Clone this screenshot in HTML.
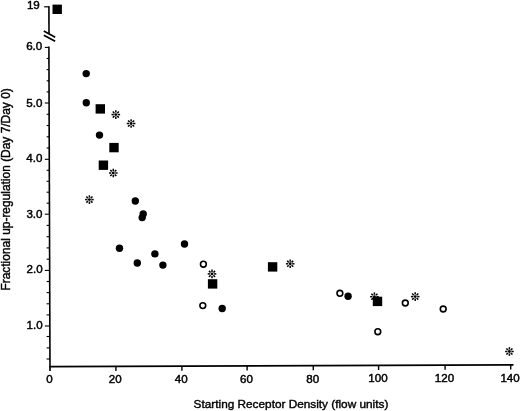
<!DOCTYPE html>
<html><head><meta charset="utf-8"><style>
html,body{margin:0;padding:0;background:#fff;width:520px;height:411px;overflow:hidden}
svg{display:block;filter:grayscale(1)}
.t{font-family:"Liberation Sans",sans-serif;font-size:11.6px;fill:#000;stroke:#000;stroke-width:0.45px}
.l{font-family:"Liberation Sans",sans-serif;font-size:11.95px;fill:#000;stroke:#000;stroke-width:0.4px}
</style></head><body>
<svg width="520" height="411" viewBox="0 0 520 411">
<rect width="520" height="411" fill="#fff"/>
<line x1="48.9" y1="46.6" x2="50.0" y2="371" stroke="#000" stroke-width="1.6"/>
<line x1="49.2" y1="366.6" x2="513.5" y2="364.9" stroke="#000" stroke-width="1.7"/>
<line x1="48.9" y1="6.2" x2="49.0" y2="33.5" stroke="#000" stroke-width="1.6"/>
<line x1="44.2" y1="6.8" x2="49.4" y2="6.8" stroke="#000" stroke-width="1.2"/>
<line x1="43.8" y1="31" x2="55.2" y2="37.2" stroke="#000" stroke-width="1.7"/>
<line x1="43.8" y1="35.3" x2="55.2" y2="41.2" stroke="#000" stroke-width="1.7"/>
<line x1="44.8" y1="47.4" x2="48.90271270036991" y2="47.4" stroke="#000" stroke-width="1.1"/>
<text x="42.30" y="50.2" text-anchor="end" class="t">6.0</text>
<line x1="44.8" y1="103.0" x2="49.091245376078916" y2="103.0" stroke="#000" stroke-width="1.1"/>
<text x="42.38" y="106.9" text-anchor="end" class="t">5.0</text>
<line x1="44.8" y1="159.3" x2="49.28215166461159" y2="159.3" stroke="#000" stroke-width="1.1"/>
<text x="42.46" y="162.0" text-anchor="end" class="t">4.0</text>
<line x1="44.8" y1="214.2" x2="49.46831072749691" y2="214.2" stroke="#000" stroke-width="1.1"/>
<text x="42.54" y="217.6" text-anchor="end" class="t">3.0</text>
<line x1="44.8" y1="270.4" x2="49.658877928483356" y2="270.4" stroke="#000" stroke-width="1.1"/>
<text x="42.62" y="273.1" text-anchor="end" class="t">2.0</text>
<line x1="44.8" y1="326.0" x2="49.847410604192355" y2="326.0" stroke="#000" stroke-width="1.1"/>
<text x="42.70" y="329.1" text-anchor="end" class="t">1.0</text>
<line x1="46.6" y1="314.9" x2="49.81" y2="314.9" stroke="#000" stroke-width="1.1"/>
<line x1="46.6" y1="303.8" x2="49.77" y2="303.8" stroke="#000" stroke-width="1.1"/>
<line x1="46.6" y1="292.6" x2="49.73" y2="292.6" stroke="#000" stroke-width="1.1"/>
<line x1="46.6" y1="281.5" x2="49.70" y2="281.5" stroke="#000" stroke-width="1.1"/>
<line x1="46.6" y1="259.2" x2="49.62" y2="259.2" stroke="#000" stroke-width="1.1"/>
<line x1="46.6" y1="247.9" x2="49.58" y2="247.9" stroke="#000" stroke-width="1.1"/>
<line x1="46.6" y1="236.7" x2="49.54" y2="236.7" stroke="#000" stroke-width="1.1"/>
<line x1="46.6" y1="225.4" x2="49.51" y2="225.4" stroke="#000" stroke-width="1.1"/>
<line x1="46.6" y1="203.2" x2="49.43" y2="203.2" stroke="#000" stroke-width="1.1"/>
<line x1="46.6" y1="192.2" x2="49.39" y2="192.2" stroke="#000" stroke-width="1.1"/>
<line x1="46.6" y1="181.3" x2="49.36" y2="181.3" stroke="#000" stroke-width="1.1"/>
<line x1="46.6" y1="170.3" x2="49.32" y2="170.3" stroke="#000" stroke-width="1.1"/>
<line x1="46.6" y1="148.0" x2="49.24" y2="148.0" stroke="#000" stroke-width="1.1"/>
<line x1="46.6" y1="136.8" x2="49.21" y2="136.8" stroke="#000" stroke-width="1.1"/>
<line x1="46.6" y1="125.5" x2="49.17" y2="125.5" stroke="#000" stroke-width="1.1"/>
<line x1="46.6" y1="114.3" x2="49.13" y2="114.3" stroke="#000" stroke-width="1.1"/>
<line x1="46.6" y1="91.9" x2="49.05" y2="91.9" stroke="#000" stroke-width="1.1"/>
<line x1="46.6" y1="80.8" x2="49.02" y2="80.8" stroke="#000" stroke-width="1.1"/>
<line x1="46.6" y1="69.6" x2="48.98" y2="69.6" stroke="#000" stroke-width="1.1"/>
<line x1="46.6" y1="58.5" x2="48.94" y2="58.5" stroke="#000" stroke-width="1.1"/>
<line x1="46.6" y1="336.5" x2="49.88" y2="336.5" stroke="#000" stroke-width="1.1"/>
<line x1="46.6" y1="347.9" x2="49.92" y2="347.9" stroke="#000" stroke-width="1.1"/>
<line x1="46.6" y1="359.0" x2="49.96" y2="359.0" stroke="#000" stroke-width="1.1"/>
<text x="39.8" y="9.2" text-anchor="end" class="t">19</text>
<text x="49.4" y="383.40" text-anchor="middle" class="t">0</text>
<line x1="115.9" y1="366.36" x2="115.9" y2="370.96" stroke="#000" stroke-width="1.4"/>
<text x="115.3" y="383.19" text-anchor="middle" class="t">20</text>
<line x1="181.9" y1="366.12" x2="181.9" y2="370.72" stroke="#000" stroke-width="1.4"/>
<text x="181.3" y="382.97" text-anchor="middle" class="t">40</text>
<line x1="247.1" y1="365.88" x2="247.1" y2="370.48" stroke="#000" stroke-width="1.4"/>
<text x="246.5" y="382.76" text-anchor="middle" class="t">60</text>
<line x1="313.3" y1="365.63" x2="313.3" y2="370.23" stroke="#000" stroke-width="1.4"/>
<text x="312.7" y="382.54" text-anchor="middle" class="t">80</text>
<line x1="378.6" y1="365.39" x2="378.6" y2="369.99" stroke="#000" stroke-width="1.4"/>
<text x="378.0" y="382.33" text-anchor="middle" class="t">100</text>
<line x1="445.1" y1="365.15" x2="445.1" y2="369.75" stroke="#000" stroke-width="1.4"/>
<text x="444.5" y="382.11" text-anchor="middle" class="t">120</text>
<line x1="510.7" y1="364.91" x2="510.7" y2="369.51" stroke="#000" stroke-width="1.4"/>
<text x="510.1" y="381.90" text-anchor="middle" class="t">140</text>
<circle cx="86.2" cy="73.6" r="3.7" fill="#000"/>
<circle cx="86.3" cy="102.8" r="3.7" fill="#000"/>
<circle cx="99.5" cy="135.1" r="3.7" fill="#000"/>
<circle cx="135.3" cy="201" r="3.7" fill="#000"/>
<circle cx="143.2" cy="213.9" r="3.7" fill="#000"/>
<circle cx="142.2" cy="217.6" r="3.7" fill="#000"/>
<circle cx="119.5" cy="248.3" r="3.7" fill="#000"/>
<circle cx="154.9" cy="253.9" r="3.7" fill="#000"/>
<circle cx="137.3" cy="263" r="3.7" fill="#000"/>
<circle cx="162.9" cy="265.1" r="3.7" fill="#000"/>
<circle cx="184.5" cy="244" r="3.7" fill="#000"/>
<circle cx="222.2" cy="308.5" r="3.7" fill="#000"/>
<circle cx="348.1" cy="296.2" r="3.7" fill="#000"/>
<circle cx="203.4" cy="264.2" r="2.9000000000000004" fill="none" stroke="#000" stroke-width="1.6"/>
<circle cx="202.8" cy="305.6" r="2.9000000000000004" fill="none" stroke="#000" stroke-width="1.6"/>
<circle cx="339.9" cy="293.3" r="2.9000000000000004" fill="none" stroke="#000" stroke-width="1.6"/>
<circle cx="377.8" cy="331.7" r="2.9000000000000004" fill="none" stroke="#000" stroke-width="1.6"/>
<circle cx="405.3" cy="303" r="2.9000000000000004" fill="none" stroke="#000" stroke-width="1.6"/>
<circle cx="443.2" cy="309" r="2.9000000000000004" fill="none" stroke="#000" stroke-width="1.6"/>
<rect x="52.50" y="4.60" width="9.4" height="9.4" fill="#000"/>
<rect x="95.60" y="104.20" width="9.4" height="9.4" fill="#000"/>
<rect x="109.30" y="142.90" width="9.4" height="9.4" fill="#000"/>
<rect x="98.70" y="160.50" width="9.4" height="9.4" fill="#000"/>
<rect x="207.90" y="279.20" width="9.4" height="9.4" fill="#000"/>
<rect x="267.90" y="262.20" width="9.4" height="9.4" fill="#000"/>
<rect x="372.80" y="296.70" width="9.4" height="9.4" fill="#000"/>
<circle cx="115.8" cy="114.6" r="1.45" fill="#000"/><line x1="117.80" y1="114.60" x2="120.10" y2="114.60" stroke="#000" stroke-width="1.5"/><line x1="117.21" y1="116.01" x2="118.84" y2="117.64" stroke="#000" stroke-width="1.5"/><line x1="115.80" y1="116.60" x2="115.80" y2="118.90" stroke="#000" stroke-width="1.5"/><line x1="114.39" y1="116.01" x2="112.76" y2="117.64" stroke="#000" stroke-width="1.5"/><line x1="113.80" y1="114.60" x2="111.50" y2="114.60" stroke="#000" stroke-width="1.5"/><line x1="114.39" y1="113.19" x2="112.76" y2="111.56" stroke="#000" stroke-width="1.5"/><line x1="115.80" y1="112.60" x2="115.80" y2="110.30" stroke="#000" stroke-width="1.5"/><line x1="117.21" y1="113.19" x2="118.84" y2="111.56" stroke="#000" stroke-width="1.5"/>
<circle cx="131.1" cy="123.5" r="1.45" fill="#000"/><line x1="133.10" y1="123.50" x2="135.40" y2="123.50" stroke="#000" stroke-width="1.5"/><line x1="132.51" y1="124.91" x2="134.14" y2="126.54" stroke="#000" stroke-width="1.5"/><line x1="131.10" y1="125.50" x2="131.10" y2="127.80" stroke="#000" stroke-width="1.5"/><line x1="129.69" y1="124.91" x2="128.06" y2="126.54" stroke="#000" stroke-width="1.5"/><line x1="129.10" y1="123.50" x2="126.80" y2="123.50" stroke="#000" stroke-width="1.5"/><line x1="129.69" y1="122.09" x2="128.06" y2="120.46" stroke="#000" stroke-width="1.5"/><line x1="131.10" y1="121.50" x2="131.10" y2="119.20" stroke="#000" stroke-width="1.5"/><line x1="132.51" y1="122.09" x2="134.14" y2="120.46" stroke="#000" stroke-width="1.5"/>
<circle cx="113.3" cy="173" r="1.45" fill="#000"/><line x1="115.30" y1="173.00" x2="117.60" y2="173.00" stroke="#000" stroke-width="1.5"/><line x1="114.71" y1="174.41" x2="116.34" y2="176.04" stroke="#000" stroke-width="1.5"/><line x1="113.30" y1="175.00" x2="113.30" y2="177.30" stroke="#000" stroke-width="1.5"/><line x1="111.89" y1="174.41" x2="110.26" y2="176.04" stroke="#000" stroke-width="1.5"/><line x1="111.30" y1="173.00" x2="109.00" y2="173.00" stroke="#000" stroke-width="1.5"/><line x1="111.89" y1="171.59" x2="110.26" y2="169.96" stroke="#000" stroke-width="1.5"/><line x1="113.30" y1="171.00" x2="113.30" y2="168.70" stroke="#000" stroke-width="1.5"/><line x1="114.71" y1="171.59" x2="116.34" y2="169.96" stroke="#000" stroke-width="1.5"/>
<circle cx="89.4" cy="199.6" r="1.45" fill="#000"/><line x1="91.40" y1="199.60" x2="93.70" y2="199.60" stroke="#000" stroke-width="1.5"/><line x1="90.81" y1="201.01" x2="92.44" y2="202.64" stroke="#000" stroke-width="1.5"/><line x1="89.40" y1="201.60" x2="89.40" y2="203.90" stroke="#000" stroke-width="1.5"/><line x1="87.99" y1="201.01" x2="86.36" y2="202.64" stroke="#000" stroke-width="1.5"/><line x1="87.40" y1="199.60" x2="85.10" y2="199.60" stroke="#000" stroke-width="1.5"/><line x1="87.99" y1="198.19" x2="86.36" y2="196.56" stroke="#000" stroke-width="1.5"/><line x1="89.40" y1="197.60" x2="89.40" y2="195.30" stroke="#000" stroke-width="1.5"/><line x1="90.81" y1="198.19" x2="92.44" y2="196.56" stroke="#000" stroke-width="1.5"/>
<circle cx="212" cy="273.9" r="1.45" fill="#000"/><line x1="214.00" y1="273.90" x2="216.30" y2="273.90" stroke="#000" stroke-width="1.5"/><line x1="213.41" y1="275.31" x2="215.04" y2="276.94" stroke="#000" stroke-width="1.5"/><line x1="212.00" y1="275.90" x2="212.00" y2="278.20" stroke="#000" stroke-width="1.5"/><line x1="210.59" y1="275.31" x2="208.96" y2="276.94" stroke="#000" stroke-width="1.5"/><line x1="210.00" y1="273.90" x2="207.70" y2="273.90" stroke="#000" stroke-width="1.5"/><line x1="210.59" y1="272.49" x2="208.96" y2="270.86" stroke="#000" stroke-width="1.5"/><line x1="212.00" y1="271.90" x2="212.00" y2="269.60" stroke="#000" stroke-width="1.5"/><line x1="213.41" y1="272.49" x2="215.04" y2="270.86" stroke="#000" stroke-width="1.5"/>
<circle cx="290.2" cy="263.8" r="1.45" fill="#000"/><line x1="292.20" y1="263.80" x2="294.50" y2="263.80" stroke="#000" stroke-width="1.5"/><line x1="291.61" y1="265.21" x2="293.24" y2="266.84" stroke="#000" stroke-width="1.5"/><line x1="290.20" y1="265.80" x2="290.20" y2="268.10" stroke="#000" stroke-width="1.5"/><line x1="288.79" y1="265.21" x2="287.16" y2="266.84" stroke="#000" stroke-width="1.5"/><line x1="288.20" y1="263.80" x2="285.90" y2="263.80" stroke="#000" stroke-width="1.5"/><line x1="288.79" y1="262.39" x2="287.16" y2="260.76" stroke="#000" stroke-width="1.5"/><line x1="290.20" y1="261.80" x2="290.20" y2="259.50" stroke="#000" stroke-width="1.5"/><line x1="291.61" y1="262.39" x2="293.24" y2="260.76" stroke="#000" stroke-width="1.5"/>
<circle cx="374.4" cy="296.7" r="1.45" fill="#000"/><line x1="376.40" y1="296.70" x2="378.70" y2="296.70" stroke="#000" stroke-width="1.5"/><line x1="375.81" y1="298.11" x2="377.44" y2="299.74" stroke="#000" stroke-width="1.5"/><line x1="374.40" y1="298.70" x2="374.40" y2="301.00" stroke="#000" stroke-width="1.5"/><line x1="372.99" y1="298.11" x2="371.36" y2="299.74" stroke="#000" stroke-width="1.5"/><line x1="372.40" y1="296.70" x2="370.10" y2="296.70" stroke="#000" stroke-width="1.5"/><line x1="372.99" y1="295.29" x2="371.36" y2="293.66" stroke="#000" stroke-width="1.5"/><line x1="374.40" y1="294.70" x2="374.40" y2="292.40" stroke="#000" stroke-width="1.5"/><line x1="375.81" y1="295.29" x2="377.44" y2="293.66" stroke="#000" stroke-width="1.5"/>
<circle cx="415.2" cy="296.6" r="1.45" fill="#000"/><line x1="417.20" y1="296.60" x2="419.50" y2="296.60" stroke="#000" stroke-width="1.5"/><line x1="416.61" y1="298.01" x2="418.24" y2="299.64" stroke="#000" stroke-width="1.5"/><line x1="415.20" y1="298.60" x2="415.20" y2="300.90" stroke="#000" stroke-width="1.5"/><line x1="413.79" y1="298.01" x2="412.16" y2="299.64" stroke="#000" stroke-width="1.5"/><line x1="413.20" y1="296.60" x2="410.90" y2="296.60" stroke="#000" stroke-width="1.5"/><line x1="413.79" y1="295.19" x2="412.16" y2="293.56" stroke="#000" stroke-width="1.5"/><line x1="415.20" y1="294.60" x2="415.20" y2="292.30" stroke="#000" stroke-width="1.5"/><line x1="416.61" y1="295.19" x2="418.24" y2="293.56" stroke="#000" stroke-width="1.5"/>
<circle cx="509.4" cy="351.5" r="1.45" fill="#000"/><line x1="511.40" y1="351.50" x2="513.70" y2="351.50" stroke="#000" stroke-width="1.5"/><line x1="510.81" y1="352.91" x2="512.44" y2="354.54" stroke="#000" stroke-width="1.5"/><line x1="509.40" y1="353.50" x2="509.40" y2="355.80" stroke="#000" stroke-width="1.5"/><line x1="507.99" y1="352.91" x2="506.36" y2="354.54" stroke="#000" stroke-width="1.5"/><line x1="507.40" y1="351.50" x2="505.10" y2="351.50" stroke="#000" stroke-width="1.5"/><line x1="507.99" y1="350.09" x2="506.36" y2="348.46" stroke="#000" stroke-width="1.5"/><line x1="509.40" y1="349.50" x2="509.40" y2="347.20" stroke="#000" stroke-width="1.5"/><line x1="510.81" y1="350.09" x2="512.44" y2="348.46" stroke="#000" stroke-width="1.5"/>
<text x="193.6" y="408.3" class="l" style="font-size:11.8px">Starting Receptor Density (flow units)</text>
<text transform="translate(10,290.6) rotate(-90)" x="0" y="0" class="l">Fractional up-regulation (Day 7/Day 0)</text>
</svg>
</body></html>
